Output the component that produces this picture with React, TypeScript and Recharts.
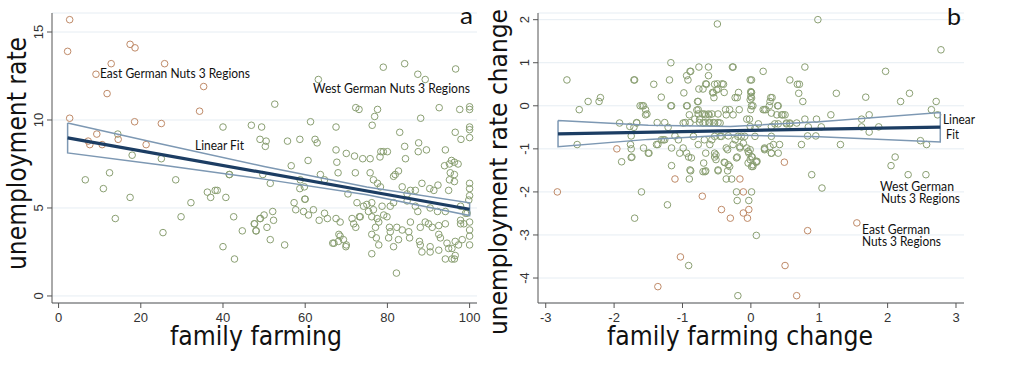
import React from 'react';
import { ScatterChart, Scatter, XAxis, YAxis, CartesianGrid } from 'recharts';

type Pt = [number, number];

// panel a: family farming (%) vs unemployment rate (%)
const eastA: Pt[] = [
  [2.7, 15.7], [2.2, 13.9], [2.7, 10.1], [9.1, 12.6], [12.8, 13.2], [11.8, 11.5], [17.4, 14.3], [18.6, 14.1],
  [25.8, 13.2], [35.3, 11.9], [34.3, 10.5], [18.5, 9.9], [25, 9.8], [7.2, 8.8], [7.6, 8.6], [9.3, 9.2],
  [10.6, 8.6], [14.5, 8.9], [21.3, 8.6],
];

const westA: Pt[] = [
  [6.5, 6.6], [10.9, 6.1], [12.4, 7.0], [17.4, 5.6], [13.8, 4.4], [17.9, 8.0], [25, 7.8], [25.4, 3.6],
  [28.5, 6.6], [32.2, 5.3], [29.8, 4.5], [36.2, 5.9], [37, 5.6], [38.1, 6.0], [38.6, 6.0], [40.7, 5.6],
  [42.6, 4.5], [40, 2.8], [42.8, 2.1], [44.7, 3.7], [47.6, 4.1], [48, 3.7], [49, 4.4], [14.4, 9.2], [41.5, 6.9],
  [52.6, 10.9], [40, 9.6], [46.9, 9.7], [49.4, 9.6], [61.3, 9.9], [67.5, 9.6], [49, 8.9], [50.5, 8.8],
  [50.3, 8.5], [55.7, 8.8], [58.7, 8.9], [62.4, 8.9], [62.9, 8.7], [67.5, 8.3], [60.7, 7.7], [67.7, 7.6],
  [56.6, 7.4], [41.6, 6.9], [49.7, 6.9], [51.5, 6.4], [63.7, 6.9], [64.7, 6.6], [58.7, 6.1], [59.8, 6.2],
  [57.3, 5.3], [57.7, 4.9], [59.9, 5.5], [59.6, 4.8], [60.8, 4.6], [62, 4.9], [64.7, 4.7], [65.4, 4.4],
  [63.4, 4.3], [52.1, 4.8], [52.3, 4.3], [50, 4.6], [49.1, 4.4], [47.7, 4.1], [48.1, 3.7], [50.7, 3.9],
  [51.5, 3.2], [55, 2.9], [68.2, 3.5], [67, 3.0], [58.8, 6.6], [60, 5.5],
  [79, 13.0], [84.2, 13.2], [87.4, 12.6], [89.2, 12.3], [96.6, 12.9], [63.2, 12.3], [72.3, 10.7], [73.1, 10.6],
  [77.6, 10.6], [76.9, 10.2], [76.3, 9.7], [88.1, 10.1], [92.6, 10.7], [97.6, 10.6], [100, 10.6], [100, 10.75],
  [100, 9.6], [100, 9.45], [97.9, 8.9], [96.5, 9.3], [100, 9.0], [83, 9.3], [87.6, 8.7], [87.5, 8.2],
  [89.5, 8.3], [94.1, 8.3], [84.2, 8.5],
  [70, 8.1], [72, 7.95], [74, 7.8], [75.8, 7.8], [78.2, 7.9], [78.4, 8.2], [79, 8.2], [80, 8.2],
  [84.4, 7.8], [93.9, 7.4], [95.1, 7.5], [96.3, 7.6], [97.2, 7.5], [95.6, 7.7], [95.3, 7.0], [96.3, 6.9],
  [95.1, 6.6], [96.3, 6.5], [72.2, 7.0], [75.8, 7.0], [82.7, 7.1], [81.5, 6.8], [81.9, 6.9], [68, 7.0],
  [100, 6.4], [100, 6.1], [100, 5.7], [99.8, 5.45], [76.6, 6.6], [77.6, 6.4], [78.3, 6.2], [90.3, 6.1],
  [92.3, 6.3], [91.3, 6.0], [83.6, 6.2], [85.6, 6.0], [86.8, 6.0], [70.4, 5.8], [72.6, 5.3], [74.2, 5.1],
  [75, 5.2], [76.2, 5.3], [78.7, 5.1], [80.7, 5.1], [81.5, 5.3], [84.8, 5.4], [86.8, 5.1], [87.4, 4.8],
  [90.4, 5.0], [92.2, 4.8], [94.1, 4.8], [97.8, 5.1], [99, 4.7], [88.4, 6.4], [84.8, 5.8], [94.9, 6.0],
  [67.5, 4.4], [68.5, 4.2], [71.4, 4.4], [73.2, 4.5], [71.8, 4.1], [72.3, 3.9], [76.2, 4.5], [77.5, 4.4],
  [79.1, 4.6], [79.9, 4.5], [77.1, 3.9], [77.9, 4.2], [80.5, 3.9], [82.3, 3.9], [83.6, 3.75], [85.2, 3.65],
  [85.6, 4.2], [88, 3.9], [89.2, 4.2], [90, 4.1], [90.9, 3.9], [92.5, 4.0], [94.1, 4.1], [97.8, 4.1],
  [100, 4.2], [100, 3.75], [100, 3.4], [100, 2.9], [68.5, 3.4], [69.3, 3.2], [66.7, 3.0], [68.1, 3.1],
  [70, 2.9], [76.2, 3.5], [77.3, 3.3], [77.9, 2.9], [80.3, 3.3], [80.7, 3.65], [81.5, 2.8], [82.7, 3.2],
  [85.4, 3.3], [87.8, 3.1], [88, 2.9], [90.4, 2.8], [92.5, 3.5], [92.9, 3.3], [94.5, 3.0], [94.9, 2.7],
  [96.5, 3.1], [97.3, 2.9], [98.2, 3.2], [95.7, 2.7], [96.5, 2.3], [94.1, 2.1], [95.7, 2.1], [88.4, 2.5],
  [90.4, 2.5], [92.5, 2.6], [76.2, 2.4], [82.2, 1.3], [98.6, 4.1], [97.8, 4.3], [99.4, 4.7], [73.4, 4.5],
  [75.4, 4.8], [76.6, 4.9], [69.9, 2.8], [96.3, 2.1],
];

// linear fit and 95% CI outline, panel a
const fitA: Pt[] = [[2.2, 8.98], [100, 4.93]];
const ciA: Pt[] = [
  [2.2, 9.83], [25, 8.64], [50, 7.36], [75, 6.19], [100, 5.29],
  [100, 4.57], [75, 5.75], [50, 6.64], [25, 7.44], [2.2, 8.13], [2.2, 9.83],
];

// panel b: change in family farming vs change in unemployment rate
const eastB: Pt[] = [
  [-2.83, -2.0], [-1.96, -1.0], [-1.11, -1.7], [-0.16, -1.7], [0.49, -1.31], [-0.71, -2.1], [-0.11, -2.0],
  [-0.43, -2.41], [-0.11, -2.49], [-0.03, -2.41], [-0.3, -2.61], [-0.05, -2.61], [-1.03, -3.51],
  [-1.36, -4.2], [0.5, -3.71], [0.67, -4.41], [1.55, -2.72], [0.83, -2.9],
];

const westB: Pt[] = [
  [-0.49, 1.9], [0.98, 2.0], [2.78, 1.3],
  [-2.69, 0.6], [-2.51, -0.09], [-2.38, 0.1], [-2.22, 0.1], [-2.2, 0.19], [-2.54, -0.9], [-1.71, 0.6],
  [-1.92, -0.4], [-1.71, -0.5], [-1.67, -0.4], [-1.75, -0.7], [-1.76, -0.9], [-1.75, -1.0], [-1.75, -1.2],
  [-1.89, -1.3], [-1.5, -1.1], [-1.62, 0], [-1.59, 0], [-1.54, -0.09], [-1.52, -0.19],
  [-1.42, 0.5], [-1.31, 0.2], [-1.19, 0.6], [-1.17, 1.0], [-0.98, 0.3], [-0.94, 0.7], [-0.89, 0.8],
  [-0.92, 0.6], [-0.76, 0.9], [-0.62, 0.7], [-0.65, 0.5], [-0.53, 0.5], [-0.4, 0.5], [-0.26, 0.9],
  [-0.5, 0.37], [-0.55, 0.3], [-1.17, 0], [-0.94, 0], [-0.78, 0.1], [-0.79, -0.1], [-0.77, -0.19],
  [-0.71, -0.19], [-0.68, -0.19], [-0.62, -0.19], [-0.57, -0.19], [-0.48, -0.19],
  [-0.75, -0.39], [-0.67, -0.39], [-0.61, -0.39], [-0.55, -0.39], [-0.48, -0.39], [-0.89, -0.39], [-0.96, -0.39],
  [-1.37, -0.39], [-1.21, -0.5], [-1.11, -0.7], [-1.06, -0.79], [-1.26, -0.79], [-1.31, -0.79], [-1.36, -0.9],
  [-1.16, -0.98], [-0.94, -1.1], [-0.87, -1.21], [-0.77, -0.9], [-0.68, -0.79], [-0.57, -0.79], [-0.53, -0.71],
  [-0.43, -0.71], [-0.33, -0.7], [-0.23, -0.79], [-1.16, -1.39], [-0.89, -1.49], [-0.7, -1.53], [-0.67, -1.53],
  [-0.48, -1.49], [-0.33, -1.37], [-0.21, -1.21], [-0.16, -0.98], [-0.11, -0.87], [-0.04, -1.06], [0.01, -1.18],
  [0.03, -1.37], [-0.01, -1.02], [-0.09, -0.71], [-0.01, -0.48], [-0.01, 0.14], [0, 0.33], [0.01, 0.6],
  [0, 0.22], [0.01, 0], [0, -0.09],
  [0.18, 0.8], [0.79, 0.9], [0.57, 0.6], [0.68, 0.5], [0.71, 0.5], [0.7, 0.29], [0.76, 0.1], [0.29, 0.19],
  [0.31, 0.19], [0.28, 0.1], [0.39, 0], [0.18, -0.09], [0.2, -0.09],
  [1.25, 0.29], [1.68, 0.2], [2.19, 0.1], [2.32, 0.29], [1.97, 0.8], [2.71, 0.1], [2.64, -0.09], [2.73, -0.21],
  [1.17, -0.21], [0.96, -0.31], [0.79, -0.31], [1.62, -0.31], [1.73, -0.21], [1.87, -0.49], [1.62, -0.49],
  [1.73, -0.61], [1.03, -0.49], [0.84, -0.49], [0.95, -0.7], [0.83, -0.7], [0.74, -0.9], [1.31, -0.9],
  [2.48, -0.81], [2.57, -0.9], [2.11, -1.19], [2.05, -1.39], [0.89, -1.6], [2.3, -1.6], [2.56, -1.6], [1.04, -1.91],
  [0.3, -0.17], [0.3, -0.71], [0.28, -0.95], [0.33, -0.9], [0.42, -0.9], [0.08, -1.29], [0.2, -1.0], [0.3, -1.1],
  [0.47, -0.21], [0.52, -0.42], [0.57, -0.42], [0.35, -0.42], [0.4, -0.42], [0.11, -0.42], [0.06, -0.52],
  [-0.62, 0.9], [-0.27, 0.9], [-0.88, 0.8], [-1.7, 0.6],
  [-0.66, 0.51], [-0.49, 0.51], [-0.42, 0.51], [-0.76, 0.39], [-0.7, 0.39], [-0.56, 0.31], [-0.48, 0.39],
  [-0.54, 0.19], [-0.39, 0.31], [-0.23, 0.19], [-0.2, 0.19], [-0.18, 0.31], [0, 0.31], [-0.01, 0.6],
  [0.01, 0.31], [0.01, 0.18],
  [-1.57, 0], [-1.54, -0.21], [-1.16, 0], [-0.93, 0], [-0.77, 0.1], [-0.77, -0.09], [-0.9, -0.21], [-0.66, -0.21],
  [-0.61, -0.21], [-0.75, -0.31], [-0.82, -0.31], [-0.37, -0.09], [-0.31, -0.09], [-0.17, -0.09], [-0.36, -0.21],
  [-0.26, -0.21], [-0.06, -0.31], [-0.02, -0.31], [0.03, 0], [0.22, -0.09], [0.27, 0], [0.4, 0], [0.38, -0.21],
  [0.45, -0.21], [0.5, -0.21],
  [-0.7, -0.4], [-0.6, -0.4], [-0.53, -0.4], [-0.45, -0.4], [-0.99, -0.4], [-1.26, -0.39], [-1.67, -0.39],
  [-1.77, -0.48], [0.3, -0.48], [0.52, -0.4], [0.57, -0.4], [0.67, -0.4],
  [-1.57, -0.98], [-1.38, -0.9], [-1.28, -0.79], [-0.84, -0.71], [-0.45, -0.71], [-0.19, -0.71], [-0.14, -0.71],
  [0.06, -0.71], [-0.26, -0.9], [-0.16, -0.95], [0.2, -0.98], [0.4, -1.1], [-0.99, -0.98], [-0.6, -0.9],
  [-0.36, -0.98], [-0.06, -0.98],
  [-0.69, -1.33], [-0.51, -1.14], [-0.51, -1.25], [-0.38, -1.32], [-0.31, -1.41], [-0.04, -1.33], [-0.01, -1.25],
  [0.03, -1.41], [0.09, -1.29],
  [-1.74, -1.19], [-1.49, -1.1], [-1.04, -1.1], [-0.91, -1.19], [-0.66, -1.1], [-0.53, -1.1], [-0.53, -1.19],
  [-0.34, -1.02], [-0.2, -1.19], [-0.03, -1.1], [0.02, -1.19], [0.08, -1.31], [0.01, -1.41], [0.3, -1.1], [0.2, -1.02],
  [-0.88, -1.51], [-0.66, -1.51], [-0.48, -1.51], [-0.39, -1.31], [-0.34, -1.51], [-0.9, -1.7], [-0.36, -1.7],
  [-0.28, -1.7], [-1.6, -2.0], [-1.22, -2.3], [-1.7, -2.61], [-0.21, -2.0], [0.01, -2.0], [-0.2, -2.2],
  [-0.03, -2.2], [0.08, -3.01], [-0.91, -3.71], [-0.19, -4.41],
];

const fitB: Pt[] = [[-2.82, -0.65], [2.77, -0.495]];
const ciB: Pt[] = [
  [-2.82, -0.34], [-1.5, -0.45], [-0.3, -0.48], [1, -0.37], [2.77, -0.155],
  [2.77, -0.84], [1, -0.72], [-0.3, -0.68], [-1.5, -0.78], [-2.82, -0.95], [-2.82, -0.34],
];

const ticksA_x = [0, 20, 40, 60, 80, 100];
const ticksA_y = [0, 5, 10, 15];
const ticksB_x = [-3, -2, -1, 0, 1, 2, 3];
const ticksB_y = [-4, -3, -2, -1, 0, 1, 2];

const GREEN = '#8a9f72';
const ORANGE = '#bf8a68';
const NAVY = '#1c3d63';
const STEEL = '#7d98b3';
const AXIS = '#555';
const TICK_FONT = 'Liberation Sans, Arial, sans-serif';
const TITLE_FONT = 'DejaVu Sans, Verdana, sans-serif';
const NOTE_FONT = 'Lato, Carlito, sans-serif';

const toXY = (arr: Pt[]) => arr.map(([x, y]) => ({ x, y }));

const ring = (color: string) => (p: any) => (
  <circle cx={p.cx} cy={p.cy} r={3.3} fill="none" stroke={color} strokeWidth={1} />
);
const noDot = () => <g />;

const YTick = (props: any) => {
  const { x, y, payload } = props;
  return (
    <text transform={`translate(${x - 4},${y}) rotate(-90)`} textAnchor="middle"
      fontSize={13} fontFamily={TICK_FONT} fill="#333">{payload.value}</text>
  );
};

type PanelProps = {
  east: Pt[]; west: Pt[]; fit: Pt[]; ci: Pt[];
  xDomain: [number, number]; yDomain: [number, number];
  xTicks: number[]; yTicks: number[];
  margin: { top: number; right: number; left: number; bottom: number };
};

const Panel = ({ east, west, fit, ci, xDomain, yDomain, xTicks, yTicks, margin }: PanelProps) => (
  <ScatterChart width={505} height={367} margin={margin}>
    <CartesianGrid horizontal vertical={false} stroke="#e6edf3" />
    <XAxis type="number" dataKey="x" domain={xDomain} ticks={xTicks} allowDataOverflow
      height={30} tickSize={5} tickMargin={5} axisLine={{ stroke: AXIS }} tickLine={{ stroke: AXIS }}
      tick={{ fontSize: 13, fontFamily: TICK_FONT, fill: '#333' }} />
    <YAxis type="number" dataKey="y" domain={yDomain} ticks={yTicks} allowDataOverflow
      width={30} tickSize={5} tickMargin={0} axisLine={{ stroke: AXIS }} tickLine={{ stroke: AXIS }}
      tick={<YTick />} />
    <Scatter data={toXY(west)} shape={ring(GREEN)} isAnimationActive={false} />
    <Scatter data={toXY(east)} shape={ring(ORANGE)} isAnimationActive={false} />
    <Scatter data={toXY(ci)} shape={noDot} line={{ stroke: STEEL, strokeWidth: 1.5 }} isAnimationActive={false} />
    <Scatter data={toXY(fit)} shape={noDot} line={{ stroke: NAVY, strokeWidth: 3.2 }} isAnimationActive={false} />
  </ScatterChart>
);

const Note = ({ x, y, w, children, size = 13 }: any) => (
  <text x={x} y={y} fontSize={size} fontFamily={NOTE_FONT} fill="#111"
    textLength={w} lengthAdjust="spacingAndGlyphs">{children}</text>
);

const App = () => {
  return (
    <div style={{ position: 'absolute', left: 0, top: 0, width: 1010, height: 367, background: '#fff' }}>
      <div style={{ position: 'absolute', left: 0, top: 0 }}>
        <Panel east={eastA} west={westA} fit={fitA} ci={ciA}
          xDomain={[-1.6, 101.8]} yDomain={[-0.4, 16.08]} xTicks={ticksA_x} yTicks={ticksA_y}
          margin={{ top: 13, right: 28, left: 22, bottom: 34 }} />
      </div>
      <div style={{ position: 'absolute', left: 505, top: 0 }}>
        <Panel east={eastB} west={westB} fit={fitB} ci={ciB}
          xDomain={[-3.113, 3.117]} yDomain={[-4.58, 2.155]} xTicks={ticksB_x} yTicks={ticksB_y}
          margin={{ top: 13, right: 46, left: 3, bottom: 34 }} />
      </div>
      <svg width={1010} height={367} style={{ position: 'absolute', left: 0, top: 0, pointerEvents: 'none' }}>
        {/* axis titles */}
        <text x={170} y={345} fontSize={26} fontFamily={TITLE_FONT} fill="#111"
          textLength={172} lengthAdjust="spacingAndGlyphs">family farming</text>
        <text transform="translate(26,270) rotate(-90)" fontSize={26} fontFamily={TITLE_FONT} fill="#111"
          textLength={233} lengthAdjust="spacingAndGlyphs">unemployment rate</text>
        <text x={607} y={345} fontSize={26} fontFamily={TITLE_FONT} fill="#111"
          textLength={266} lengthAdjust="spacingAndGlyphs">family farming change</text>
        <text transform="translate(507,335) rotate(-90)" fontSize={25} fontFamily={TITLE_FONT} fill="#111"
          textLength={326} lengthAdjust="spacingAndGlyphs">unemployment rate change</text>

        {/* panel letters */}
        <Note x={460} y={24} w={13} size={24}>a</Note>
        <Note x={947} y={25} w={14} size={24}>b</Note>

        {/* panel a notes */}
        <Note x={100} y={78} w={150}>East German Nuts 3 Regions</Note>
        <Note x={313} y={93} w={157}>West German Nuts 3 Regions</Note>
        <Note x={195} y={150} w={49}>Linear Fit</Note>

        {/* panel b notes */}
        <Note x={943} y={124} w={32}>Linear</Note>
        <Note x={946} y={139} w={13}>Fit</Note>
        <Note x={880} y={191} w={74}>West German</Note>
        <Note x={881} y={203} w={79}>Nuts 3 Regions</Note>
        <Note x={862} y={234} w={68}>East German</Note>
        <Note x={862} y={246} w={79}>Nuts 3 Regions</Note>
      </svg>
    </div>
  );
};

export default App;
